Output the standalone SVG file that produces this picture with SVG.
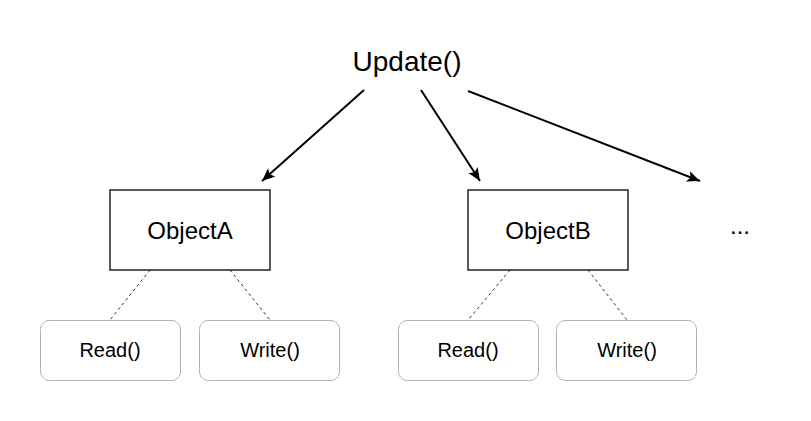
<svg xmlns="http://www.w3.org/2000/svg" width="811" height="421" viewBox="0 0 811 421">
<style>
.t{font-family:"Liberation Sans",Arial,sans-serif;fill:#000;text-anchor:middle}
.obj{fill:#fff;stroke:#000;stroke-width:1.3}
.m{fill:#fff;stroke:#666;stroke-width:1;stroke-dasharray:1 1}
.arr{stroke:#000;stroke-width:2;fill:none}
.dash{stroke:#000;stroke-width:0.8;stroke-dasharray:3 3;fill:none}
</style>
<defs>
<marker id="ah" markerUnits="userSpaceOnUse" viewBox="-14 -7 16 14" refX="0" refY="0" markerWidth="16" markerHeight="14" orient="auto">
<path d="M0,0 L-13,-5.5 L-10,0 L-13,5.5 Z" fill="#000"/>
</marker>
</defs>
<rect width="811" height="421" fill="#fff"/>
<g id="connectors">
<line class="arr" x1="364" y1="90" x2="262" y2="181" marker-end="url(#ah)"/>
<line class="arr" x1="421" y1="90" x2="480" y2="181" marker-end="url(#ah)"/>
<line class="arr" x1="468" y1="91" x2="700" y2="181" marker-end="url(#ah)"/>
<line class="dash" x1="150" y1="270" x2="110" y2="320"/>
<line class="dash" x1="230" y1="270" x2="270" y2="320"/>
<line class="dash" x1="510" y1="270" x2="468" y2="320"/>
<line class="dash" x1="588" y1="270" x2="627" y2="320"/>
</g>
<g id="update"><text class="t" x="407" y="71" font-size="28">Update()</text></g>
<g id="objectA"><rect class="obj" x="110" y="190" width="160" height="80"/><text class="t" x="190" y="239" font-size="24">ObjectA</text></g>
<g id="objectB"><rect class="obj" x="468" y="190" width="160" height="80"/><text class="t" x="548" y="239" font-size="24">ObjectB</text></g>
<g id="readA"><rect class="m" x="40.5" y="320.5" width="140" height="60" rx="9"/><text class="t" x="110" y="357" font-size="20">Read()</text></g>
<g id="writeA"><rect class="m" x="199.5" y="320.5" width="140" height="60" rx="9"/><text class="t" x="270" y="357" font-size="20">Write()</text></g>
<g id="readB"><rect class="m" x="398.5" y="320.5" width="140" height="60" rx="9"/><text class="t" x="468" y="357" font-size="20">Read()</text></g>
<g id="writeB"><rect class="m" x="556.5" y="320.5" width="140" height="60" rx="9"/><text class="t" x="627" y="357" font-size="20">Write()</text></g>
<g id="more"><text class="t" x="740" y="234" font-size="24">...</text></g>
</svg>
